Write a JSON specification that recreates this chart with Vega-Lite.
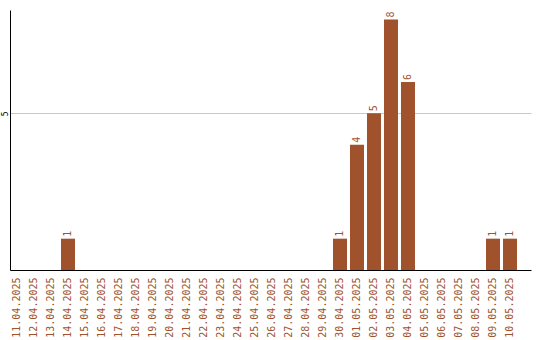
{
  "$schema": "https://vega.github.io/schema/vega-lite/v6.json",
  "width": 521,
  "height": 260,
  "autosize": {"type": "none"},
  "padding": {"left": 10, "top": 10, "right": 9, "bottom": 70},
  "background": "white",
  "config": {"view": {"stroke": null}},
  "data": {"values": [
    {"date": "11.04.2025", "count": 0},
    {"date": "12.04.2025", "count": 0},
    {"date": "13.04.2025", "count": 0},
    {"date": "14.04.2025", "count": 1},
    {"date": "15.04.2025", "count": 0},
    {"date": "16.04.2025", "count": 0},
    {"date": "17.04.2025", "count": 0},
    {"date": "18.04.2025", "count": 0},
    {"date": "19.04.2025", "count": 0},
    {"date": "20.04.2025", "count": 0},
    {"date": "21.04.2025", "count": 0},
    {"date": "22.04.2025", "count": 0},
    {"date": "23.04.2025", "count": 0},
    {"date": "24.04.2025", "count": 0},
    {"date": "25.04.2025", "count": 0},
    {"date": "26.04.2025", "count": 0},
    {"date": "27.04.2025", "count": 0},
    {"date": "28.04.2025", "count": 0},
    {"date": "29.04.2025", "count": 0},
    {"date": "30.04.2025", "count": 1},
    {"date": "01.05.2025", "count": 4},
    {"date": "02.05.2025", "count": 5},
    {"date": "03.05.2025", "count": 8},
    {"date": "04.05.2025", "count": 6},
    {"date": "05.05.2025", "count": 0},
    {"date": "06.05.2025", "count": 0},
    {"date": "07.05.2025", "count": 0},
    {"date": "08.05.2025", "count": 0},
    {"date": "09.05.2025", "count": 1},
    {"date": "10.05.2025", "count": 1}
  ]},
  "encoding": {
    "x": {
      "field": "date", "type": "nominal", "sort": null,
      "scale": {"paddingInner": 0.1765, "paddingOuter": 0.412, "align": 0},
      "axis": {
        "title": null, "labelAngle": 270, "ticks": false,
        "domainColor": "black", "domainWidth": 1,
        "labelColor": "#a0522d", "labelFont": "DejaVu Sans Mono", "labelFontSize": 10,
        "labelPadding": 7, "labelAlign": "right", "labelBaseline": "middle"
      }
    },
    "y": {
      "field": "count", "type": "quantitative",
      "scale": {"domain": [0, 8.3], "nice": false},
      "axis": {
        "title": null, "values": [5], "ticks": false, "grid": true,
        "gridColor": "#c8c8c8", "domainColor": "black", "domainWidth": 1,
        "labelColor": "black", "labelFont": "DejaVu Sans Mono", "labelFontSize": 8,
        "labelAngle": 270, "labelAlign": "center", "labelBaseline": "alphabetic", "labelPadding": 3
      }
    }
  },
  "layer": [
    {"mark": {"type": "bar", "color": "#a0522d"}},
    {
      "transform": [{"filter": "datum.count > 0"}],
      "mark": {"type": "text", "angle": 270, "align": "left", "baseline": "middle", "dx": 2,
               "color": "#a0522d", "font": "DejaVu Sans Mono", "fontSize": 10},
      "encoding": {"text": {"field": "count", "type": "quantitative"}}
    }
  ]
}
